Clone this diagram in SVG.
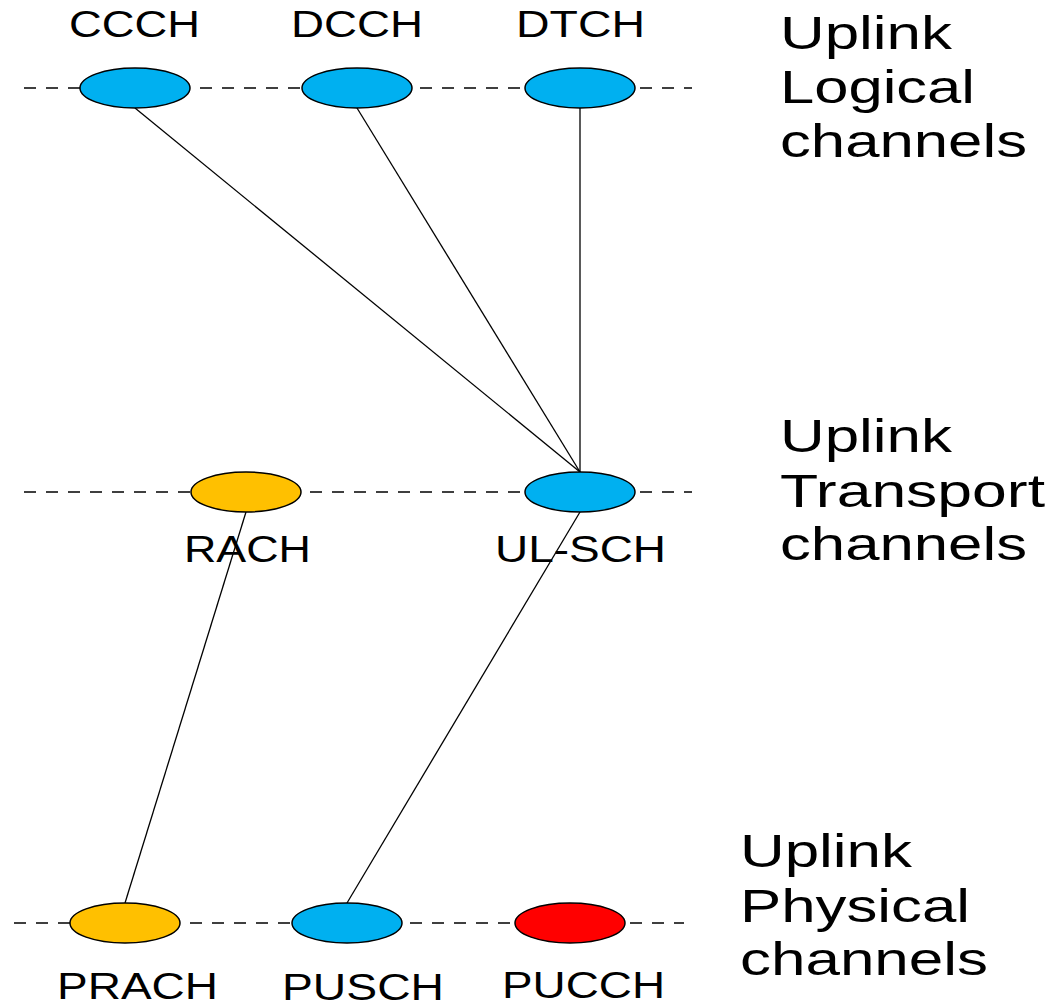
<svg xmlns="http://www.w3.org/2000/svg" width="1052" height="1006" viewBox="0 0 1052 1006">
<style>
.dash{stroke:#000;stroke-width:1.3;stroke-dasharray:12 10;fill:none}
.ln{stroke:#000;stroke-width:1.3;fill:none}
.el{stroke:#000;stroke-width:1.5}
.blue{fill:#00B0F0}
.orange{fill:#FFC000}
.red{fill:#FF0000}
.lab{font-family:"Liberation Sans",Arial,sans-serif;font-size:36px;fill:#000}
.big{font-family:"Liberation Sans",Arial,sans-serif;font-size:47px;fill:#000}
</style>
<rect width="1052" height="1006" fill="#fff"/>
<g id="guides">
<line class="dash" x1="24" y1="88" x2="692" y2="88"/>
<line class="dash" x1="24" y1="492" x2="692" y2="492"/>
<line class="dash" x1="14" y1="923" x2="684" y2="923"/>
</g>
<g id="connectors">
<line class="ln" x1="135" y1="108" x2="580" y2="472"/>
<line class="ln" x1="357" y1="108" x2="580" y2="472"/>
<line class="ln" x1="580" y1="108" x2="580" y2="472"/>
<line class="ln" x1="246" y1="512" x2="125" y2="903"/>
<line class="ln" x1="580" y1="512" x2="347" y2="903"/>
</g>
<g id="CCCH"><ellipse class="el blue" cx="135" cy="88" rx="55" ry="20"/><text class="lab" x="69" y="37" textLength="131" lengthAdjust="spacingAndGlyphs">CCCH</text></g>
<g id="DCCH"><ellipse class="el blue" cx="357" cy="88" rx="55" ry="20"/><text class="lab" x="291" y="37" textLength="132" lengthAdjust="spacingAndGlyphs">DCCH</text></g>
<g id="DTCH"><ellipse class="el blue" cx="580" cy="88" rx="55" ry="20"/><text class="lab" x="516" y="37" textLength="129" lengthAdjust="spacingAndGlyphs">DTCH</text></g>
<g id="RACH"><ellipse class="el orange" cx="246" cy="492" rx="55" ry="20"/><text class="lab" x="184" y="562" textLength="127" lengthAdjust="spacingAndGlyphs">RACH</text></g>
<g id="UL-SCH"><ellipse class="el blue" cx="580" cy="492" rx="55" ry="20"/><text class="lab" x="495" y="562" textLength="171" lengthAdjust="spacingAndGlyphs">UL-SCH</text></g>
<g id="PRACH"><ellipse class="el orange" cx="125" cy="923" rx="55" ry="20"/><text class="lab" x="57" y="999" textLength="161" lengthAdjust="spacingAndGlyphs">PRACH</text></g>
<g id="PUSCH"><ellipse class="el blue" cx="347" cy="923" rx="55" ry="20"/><text class="lab" x="282" y="1000" textLength="162" lengthAdjust="spacingAndGlyphs">PUSCH</text></g>
<g id="PUCCH"><ellipse class="el red" cx="570" cy="923" rx="55" ry="20"/><text class="lab" x="502" y="998" textLength="163" lengthAdjust="spacingAndGlyphs">PUCCH</text></g>
<g id="layer-logical">
<text class="big" x="780" y="49" textLength="172" lengthAdjust="spacingAndGlyphs">Uplink</text>
<text class="big" x="780" y="103" textLength="195" lengthAdjust="spacingAndGlyphs">Logical</text>
<text class="big" x="780" y="157" textLength="247" lengthAdjust="spacingAndGlyphs">channels</text>
</g>
<g id="layer-transport">
<text class="big" x="780" y="452" textLength="172" lengthAdjust="spacingAndGlyphs">Uplink</text>
<text class="big" x="780" y="507" textLength="265" lengthAdjust="spacingAndGlyphs">Transport</text>
<text class="big" x="780" y="560" textLength="247" lengthAdjust="spacingAndGlyphs">channels</text>
</g>
<g id="layer-physical">
<text class="big" x="740" y="867" textLength="172" lengthAdjust="spacingAndGlyphs">Uplink</text>
<text class="big" x="740" y="922" textLength="230" lengthAdjust="spacingAndGlyphs">Physical</text>
<text class="big" x="740" y="975" textLength="248" lengthAdjust="spacingAndGlyphs">channels</text>
</g>
</svg>
